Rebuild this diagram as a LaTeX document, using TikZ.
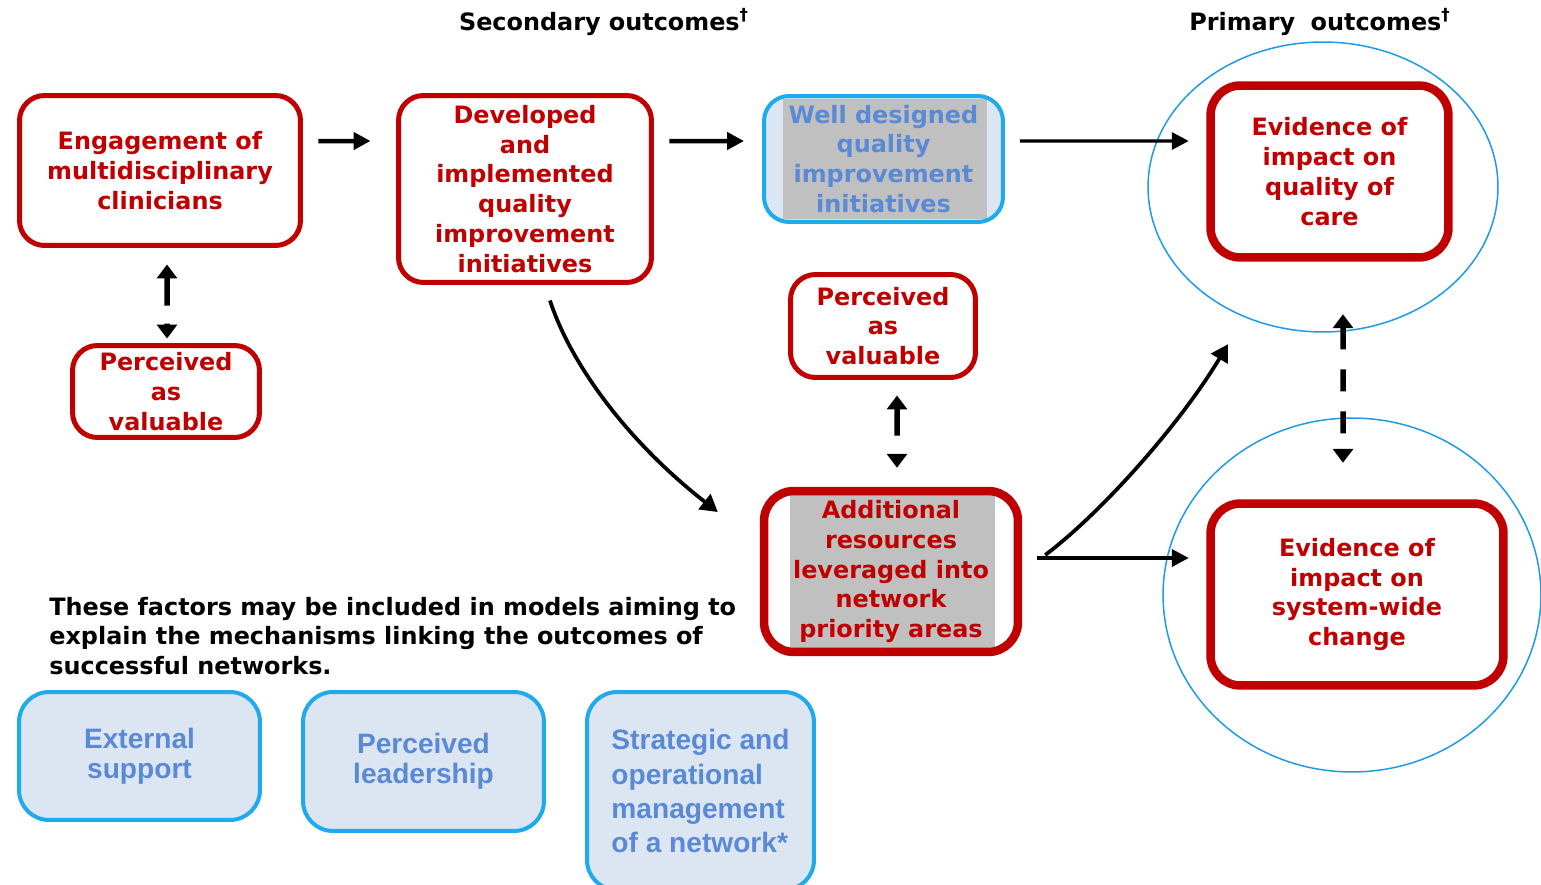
\documentclass[tikz,border=0pt]{standalone}
\usepackage{fontspec}
\setmainfont{DejaVu Sans}
\newfontfamily\arialfont{Liberation Sans}
\usetikzlibrary{arrows.meta,shapes.geometric,calc}
\definecolor{nred}{HTML}{C00000}
\definecolor{nblue}{HTML}{1FAAEC}
\definecolor{nfill}{HTML}{DCE6F2}
\definecolor{ntext}{HTML}{5A8AD6}
\definecolor{ngray}{HTML}{C0C0C0}
\definecolor{ncirc}{HTML}{1E9BE8}
\begin{document}
\begin{tikzpicture}[x=0.02cm,y=-0.02cm,
  vfont/.style={font=\bfseries\fontsize{13.6}{17}\selectfont},
  redbox/.style={draw=nred, line width=0.1cm, rounded corners=0.5cm, fill=white,
    text=nred, align=center, inner sep=0pt, vfont},
  thickred/.style={redbox, line width=0.17cm, rounded corners=0.6cm},
  wdbox/.style={redbox, draw=nblue, line width=0.08cm, fill=nfill, text=ntext,
    path picture={\fill[ngray, sharp corners] ([xshift=0.38cm,yshift=0.06cm]path picture bounding box.south west)
      rectangle ([xshift=-0.32cm,yshift=-0.06cm]path picture bounding box.north east);}},
  addbox/.style={thickred,
    path picture={\fill[ngray, sharp corners] ([xshift=0.52cm,yshift=0.08cm]path picture bounding box.south west)
      rectangle ([xshift=-0.46cm,yshift=-0.08cm]path picture bounding box.north east);}},
  bluebox/.style={draw=nblue, line width=0.08cm, rounded corners=0.6cm, fill=nfill,
    text=ntext, align=center, inner sep=0pt,
    font=\arialfont\bfseries\fontsize{16}{17}\selectfont},
  circ/.style={draw=ncirc, line width=0.03cm, ellipse, inner sep=0pt},
  arr/.style={line width=0.09cm, -{Triangle[length=0.34cm,width=0.34cm]}},
  carr/.style={line width=0.075cm, -{Triangle[length=0.34cm,width=0.38cm]}},
  dbl/.style={line width=0.11cm, {Triangle[length=0.28cm,width=0.4cm]}-{Triangle[length=0.28cm,width=0.4cm]}}
]
\useasboundingbox (0,0) rectangle (1541,885);

% outcome ellipses
\node[circ, minimum width=7cm, minimum height=5.8cm] (c1) at (1323,187) {};
\node[circ, minimum width=7.56cm, minimum height=7.08cm] (c2) at (1352,595) {};

% titles
\node[vfont] (t1) at (604,22) {Secondary outcomes\textsuperscript{†}};
\node[vfont] (t2) at (1320,22) {Primary\hspace{0.3em} outcomes\textsuperscript{†}};

% red boxes
\node[redbox, minimum width=5.62cm, minimum height=3.0cm] (eng) at (160,170.5)
  {Engagement of\\multidisciplinary\\clinicians};
\node[redbox, minimum width=5.06cm, minimum height=3.74cm] (dev) at (525,189)
  {Developed\\and\\implemented\\quality\\improvement\\initiatives};
\node[wdbox, minimum width=4.78cm, minimum height=2.52cm] (wd) at (883.5,159)
  {Well designed\\quality\\improvement\\initiatives};
\node[thickred, minimum width=4.76cm, minimum height=3.44cm] (evq) at (1329.5,171.5)
  {Evidence of\\impact on\\quality of\\care};
\node[redbox, minimum width=3.74cm, minimum height=1.84cm] (pv1) at (166,391.5)
  {Perceived\\as\\valuable};
\node[redbox, minimum width=3.7cm, minimum height=2.06cm] (pv2) at (883,326)
  {Perceived\\as\\valuable};
\node[addbox, minimum width=5.08cm, minimum height=3.22cm] (add) at (891,571.5)
  {Additional\\resources\\leveraged into\\network\\priority areas};
\node[thickred, minimum width=5.86cm, minimum height=3.64cm] (evs) at (1357,594.5)
  {Evidence of\\impact on\\system-wide\\change};

% note
\node[vfont, anchor=west, align=left, inner sep=0pt] (note) at (49,636)
  {These factors may be included in models aiming to\\explain the mechanisms linking the outcomes of\\successful networks.};

% blue factor boxes
\node[bluebox, minimum width=4.82cm, minimum height=2.56cm] (ext) at (139.5,756)
  {External\\support};
\node[bluebox, minimum width=4.82cm, minimum height=2.78cm] (lead) at (423.5,761.5)
  {Perceived\\leadership};
\node[bluebox, minimum width=4.54cm, minimum height=3.96cm, align=left,
  font=\arialfont\bfseries\fontsize{16}{19.4}\selectfont] (strat) at (700.5,791)
  {Strategic and\\operational\\management\\of a network*};

% connectors
\draw[arr, shorten <=0.31cm, shorten >=0.51cm] ([yshift=0.59cm]eng.east) -- ([yshift=0.96cm]dev.west);
\draw[arr, shorten <=0.31cm, shorten >=0.36cm] ([yshift=0.96cm]dev.east) -- ([yshift=0.36cm]wd.west);
\draw[arr, line width=0.065cm, shorten <=0.3cm, shorten >=0.35cm] ([yshift=0.36cm]wd.east) -- ([yshift=0.61cm]evq.west);
\draw[carr] ([xshift=0.5cm,yshift=-0.31cm]dev.south)
  .. controls +(0.4cm,-1.24cm) and +(-1.84cm,1.44cm) ..
  ([xshift=-0.84cm,yshift=1.19cm]add.west);
\draw[carr] ([xshift=0.46cm,yshift=0.33cm]add.east)
  .. controls +(1.14cm,0.86cm) and +(-0.96cm,-1.6cm) ..
  ([xshift=-2.03cm,yshift=-1.65cm]evq.south);
\draw[arr, line width=0.075cm, shorten <=0.3cm, shorten >=0.35cm] ([yshift=0.27cm]add.east) -- ([yshift=0.73cm]evs.west);
\draw[dbl, dash pattern=on 0.56cm off 0.36cm, shorten <=0.33cm, shorten >=0.09cm]
  ([xshift=0.14cm]eng.south) -- ([xshift=0.02cm]pv1.north);
\draw[dbl, dash pattern=on 0.54cm off 0.4cm, shorten <=0.31cm, shorten >=0.38cm]
  ([xshift=0.28cm]pv2.south) -- ([xshift=0.12cm]add.north);
\draw[dbl, dash pattern=on 0.44cm off 0.4cm, shorten <=1.05cm, shorten >=0.73cm]
  ([xshift=0.27cm]evq.south) -- ([xshift=-0.28cm]evs.north);
\end{tikzpicture}
\end{document}
